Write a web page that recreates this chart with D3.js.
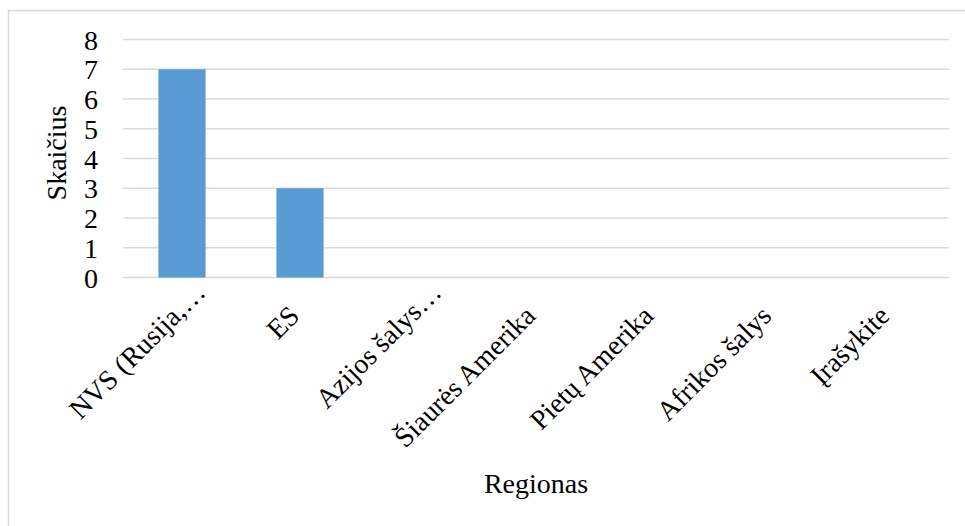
<!DOCTYPE html>
<html>
<head>
<meta charset="utf-8">
<script src="https://cdn.jsdelivr.net/npm/d3@7"></script>
</head>
<body style="margin:0">
<svg id="fig" width="965" height="526" font-family="Liberation Serif" style="font-family: 'Liberation Serif'"></svg>
<script>
// Regions and counts
const categories = ["NVS (Rusija,…", "ES", "Azijos šalys…", "Šiaurės Amerika", "Pietų Amerika", "Afrikos šalys", "Įrašykite"];
const values = [7, 3, 0, 0, 0, 0, 0];
const yTicks = [0, 1, 2, 3, 4, 5, 6, 7, 8];
const xTitle = "Regionas";
const yTitle = "Skaičius";

const svg = d3.select("#fig");
const W = 965, H = 526;
const plot = { left: 123, right: 949, top: 39.5, bottom: 277.5 };
const fontSize = 28;

// Serif text helper
function serif(sel) {
  return sel.style("font-family", () => "Liberation Serif")
    .attr("font-size", fontSize).attr("fill", "#000");
}

// Chart frame
svg.append("rect")
  .attr("x", 8.5).attr("y", 10.5)
  .attr("width", W).attr("height", H)
  .attr("fill", "none").attr("stroke", "#d9d9d9").attr("stroke-width", 1.5);

const x = d3.scaleBand().domain(categories).range([plot.left, plot.right]).paddingInner(0.6).paddingOuter(0.3);
const y = d3.scaleLinear().domain([0, 8]).range([plot.bottom, plot.top]);

// Horizontal gridlines
svg.append("g").selectAll("line").data(yTicks).join("line")
  .attr("x1", plot.left).attr("x2", plot.right)
  .attr("y1", d => y(d)).attr("y2", d => y(d))
  .attr("stroke", "#d9d9d9").attr("stroke-width", 1.5);

// Bars
svg.append("g").selectAll("rect").data(categories).join("rect")
  .attr("x", d => x(d))
  .attr("width", x.bandwidth())
  .attr("y", (d, i) => y(values[i]))
  .attr("height", (d, i) => y(0) - y(values[i]))
  .attr("fill", "#5b9bd5");

// Y axis tick labels
const gy = svg.append("g").attr("transform", "translate(98,0)")
  .call(d3.axisLeft(y).tickValues(yTicks).tickSize(0).tickPadding(0));
gy.attr("font-family", null).attr("font-size", null);
gy.select(".domain").remove();
serif(gy.selectAll("text")).attr("dy", "0.34em");

// X axis category labels, rotated; truncated labels sit further along their baseline
const gx = svg.append("g").attr("transform", `translate(0,${plot.bottom})`)
  .call(d3.axisBottom(x).tickSize(0).tickPadding(0));
gx.attr("font-family", null).attr("font-size", null);
gx.select(".domain").remove();
serif(gx.selectAll("text"))
  .attr("text-anchor", "end")
  .attr("y", 0).attr("dy", 0)
  .attr("transform", d => d.endsWith("…")
    ? "translate(25,16.5) rotate(-45)"
    : "translate(1,40) rotate(-45)");

// Axis titles
serif(svg.append("text"))
  .attr("x", (plot.left + plot.right) / 2).attr("y", 493)
  .attr("text-anchor", "middle")
  .text(xTitle);

serif(svg.append("text"))
  .attr("transform", `translate(66,153) rotate(-90)`)
  .attr("text-anchor", "middle")
  .text(yTitle);
</script>
</body>
</html>
